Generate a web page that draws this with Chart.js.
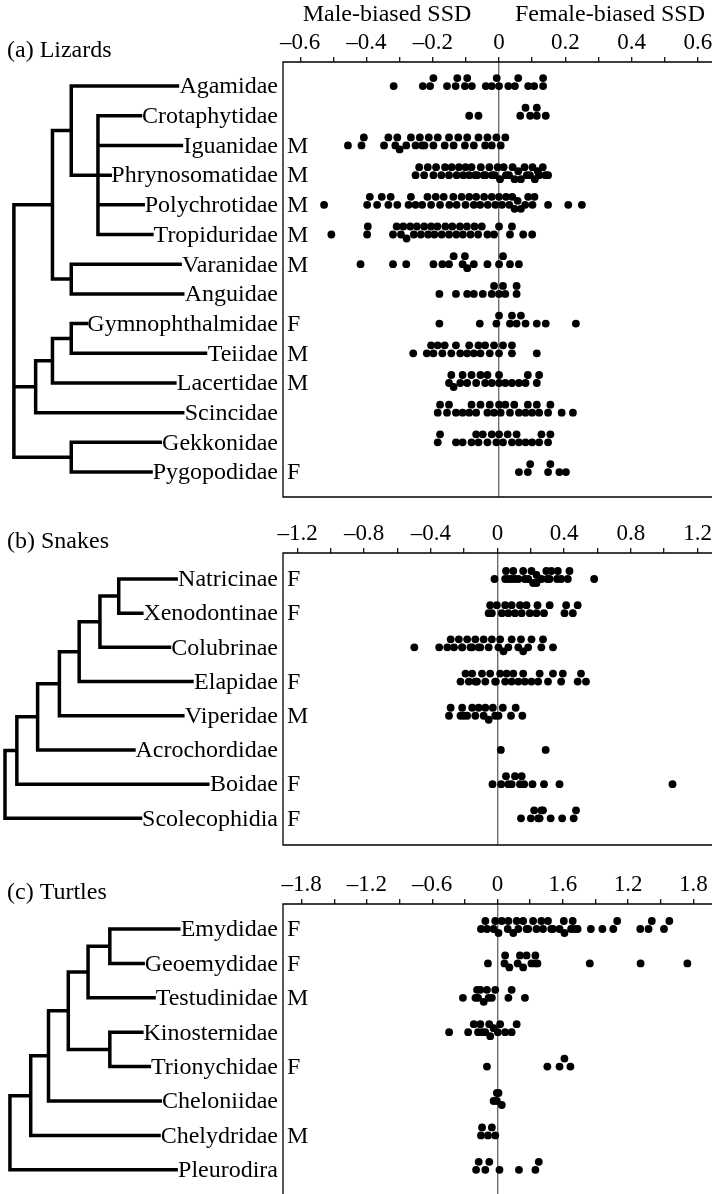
<!DOCTYPE html>
<html>
<head>
<meta charset="utf-8">
<script src="https://cdn.jsdelivr.net/npm/chart.js@4.4.1/dist/chart.umd.min.js"></script>
<style>
  html, body { margin: 0; padding: 0; background: #fff; overflow: hidden; width: 712px; height: 1194px; }
  canvas { position: absolute; left: 0; }
</style>
</head>
<body>
<canvas id="lizards" width="730" height="505" style="top:0"></canvas>
<canvas id="snakes" width="730" height="345" style="top:505px"></canvas>
<canvas id="turtles" width="730" height="360" style="top:850px"></canvas>
<script>
/* ---------- (a) Lizards ---------- */
const lizardFamilies = ["Agamidae", "Crotaphytidae", "Iguanidae", "Phrynosomatidae", "Polychrotidae",
  "Tropiduridae", "Varanidae", "Anguidae", "Gymnophthalmidae", "Teiidae", "Lacertidae",
  "Scincidae", "Gekkonidae", "Pygopodidae"];
const lizardBias = ["", "", "M", "M", "M", "M", "M", "", "F", "M", "M", "", "", "F"];
const lizardTicks = [-0.6, -0.4, -0.2, 0, 0.2, 0.4, 0.6];
const lizardTickLabels = ["–0.6", "–0.4", "–0.2", "0", "0.2", "0.4", "0.6"];
const lizardMinorTicks = [-0.5, -0.3, -0.1, 0.1, 0.3, 0.5];
// tree: [node depth, children...] ; a number child = row of a family
const lizardTree = [10,
  [49, [68, 0, [95, 1, 2, 3, 4, 5]], [68, 6, 7]],
  [32, [49, [68, 8, 9], 10], 11],
  [68, 12, 13]];
const lizardSSD = [
  [-0.318, -0.230, -0.208, -0.198, -0.157, -0.131, -0.126, -0.103, -0.096, -0.082, -0.040, -0.022, -0.007, 0.0, 0.028, 0.048, 0.058, 0.088, 0.106, 0.133, 0.133],
  [-0.090, -0.062, 0.064, 0.080, 0.094, 0.114, 0.114, 0.141],
  [-0.456, -0.415, -0.408, -0.347, -0.334, -0.313, -0.307, -0.300, -0.280, -0.266, -0.252, -0.239, -0.232, -0.225, -0.212, -0.198, -0.185, -0.164, -0.151, -0.137, -0.123, -0.103, -0.096, -0.076, -0.062, -0.042, -0.035, -0.022, -0.008, 0.005, 0.019],
  [-0.252, -0.241, -0.226, -0.215, -0.198, -0.190, -0.174, -0.163, -0.151, -0.143, -0.128, -0.121, -0.108, -0.101, -0.090, -0.083, -0.072, -0.066, -0.055, -0.046, -0.041, -0.029, -0.021, -0.013, -0.004, 0.003, 0.014, 0.021, 0.030, 0.041, 0.047, 0.058, 0.066, 0.077, 0.084, 0.093, 0.101, 0.108, 0.117, 0.121, 0.132, 0.140, 0.148],
  [-0.528, -0.398, -0.390, -0.368, -0.354, -0.334, -0.327, -0.307, -0.273, -0.266, -0.252, -0.232, -0.216, -0.205, -0.191, -0.178, -0.167, -0.150, -0.138, -0.128, -0.113, -0.101, -0.090, -0.076, -0.069, -0.057, -0.045, -0.034, -0.022, -0.011, 0.0, 0.009, 0.021, 0.031, 0.040, 0.047, 0.056, 0.066, 0.079, 0.088, 0.101, 0.107, 0.148, 0.209, 0.250],
  [-0.506, -0.398, -0.396, -0.320, -0.309, -0.296, -0.289, -0.279, -0.268, -0.257, -0.248, -0.236, -0.226, -0.214, -0.205, -0.195, -0.186, -0.173, -0.162, -0.151, -0.141, -0.129, -0.118, -0.109, -0.097, -0.086, -0.074, -0.063, -0.052, -0.035, -0.015, 0.0, 0.033, 0.039, 0.073, 0.100],
  [-0.418, -0.320, -0.280, -0.198, -0.171, -0.151, -0.137, -0.110, -0.103, -0.096, -0.076, -0.035, 0.0, 0.012, 0.033, 0.060],
  [-0.180, -0.130, -0.096, -0.076, -0.049, -0.022, -0.015, 0.0, 0.012, 0.019, 0.053, 0.053],
  [-0.180, -0.058, -0.008, 0.0, 0.033, 0.039, 0.053, 0.066, 0.080, 0.114, 0.141, 0.232],
  [-0.259, -0.218, -0.205, -0.198, -0.185, -0.171, -0.164, -0.144, -0.130, -0.117, -0.096, -0.090, -0.076, -0.062, -0.056, -0.042, -0.028, -0.015, 0.0, 0.012, 0.039, 0.039, 0.114],
  [-0.151, -0.144, -0.137, -0.117, -0.110, -0.096, -0.083, -0.069, -0.056, -0.042, -0.035, -0.022, 0.0, 0.0, 0.019, 0.039, 0.060, 0.080, 0.087, 0.114, 0.121],
  [-0.185, -0.178, -0.157, -0.151, -0.130, -0.110, -0.090, -0.083, -0.069, -0.056, -0.035, -0.028, -0.015, 0.0, 0.005, 0.019, 0.033, 0.046, 0.060, 0.080, 0.087, 0.100, 0.114, 0.121, 0.148, 0.155, 0.189, 0.223],
  [-0.185, -0.178, -0.130, -0.110, -0.083, -0.069, -0.062, -0.049, -0.035, -0.022, -0.008, 0.0, 0.012, 0.026, 0.039, 0.053, 0.060, 0.080, 0.100, 0.121, 0.128, 0.148, 0.155],
  [0.060, 0.087, 0.094, 0.148, 0.155, 0.182, 0.202]
];

/* ---------- (b) Snakes ---------- */
const snakeFamilies = ["Natricinae", "Xenodontinae", "Colubrinae", "Elapidae", "Viperidae",
  "Acrochordidae", "Boidae", "Scolecophidia"];
const snakeBias = ["F", "F", "", "F", "M", "", "F", "F"];
const snakeTicks = [-1.2, -0.8, -0.4, 0, 0.4, 0.8, 1.2];
const snakeTickLabels = ["–1.2", "–0.8", "–0.4", "0", "0.4", "0.8", "1.2"];
const snakeMinorTicks = [-1.0, -0.6, -0.2, 0.2, 0.6, 1.0];
const snakeTree = [1, [13, [34, [56, [76, [97, [116, 0, 1], 2], 3], 4], 5], 6], 7];
const snakeSSD = [
  [-0.018, 0.046, 0.051, 0.065, 0.085, 0.095, 0.105, 0.125, 0.154, 0.164, 0.184, 0.204, 0.214, 0.234, 0.234, 0.263, 0.293, 0.299, 0.313, 0.323, 0.358, 0.362, 0.382, 0.422, 0.432, 0.580],
  [-0.053, -0.044, -0.034, -0.004, 0.026, 0.046, 0.065, 0.085, 0.105, 0.135, 0.145, 0.174, 0.194, 0.234, 0.240, 0.279, 0.313, 0.402, 0.412, 0.452, 0.481],
  [-0.499, -0.350, -0.301, -0.281, -0.261, -0.232, -0.212, -0.212, -0.182, -0.162, -0.152, -0.133, -0.113, -0.103, -0.083, -0.053, -0.034, 0.006, 0.016, 0.036, 0.065, 0.085, 0.125, 0.141, 0.154, 0.184, 0.204, 0.263, 0.273, 0.333],
  [-0.222, -0.192, -0.172, -0.152, -0.133, -0.123, -0.093, -0.073, -0.044, -0.014, -0.010, 0.016, 0.046, 0.055, 0.085, 0.095, 0.125, 0.154, 0.164, 0.204, 0.244, 0.253, 0.303, 0.333, 0.382, 0.392, 0.481, 0.501, 0.531],
  [-0.291, -0.281, -0.222, -0.212, -0.202, -0.182, -0.152, -0.133, -0.113, -0.083, -0.073, -0.053, -0.028, -0.014, 0.006, 0.032, 0.081, 0.109, 0.149],
  [0.020, 0.289],
  [-0.030, 0.022, 0.051, 0.065, 0.085, 0.105, 0.135, 0.145, 0.160, 0.210, 0.279, 0.372, 1.050],
  [0.141, 0.200, 0.220, 0.244, 0.253, 0.263, 0.273, 0.319, 0.388, 0.457, 0.471]
];

/* ---------- (c) Turtles ---------- */
const turtleFamilies = ["Emydidae", "Geoemydidae", "Testudinidae", "Kinosternidae", "Trionychidae",
  "Cheloniidae", "Chelydridae", "Pleurodira"];
const turtleBias = ["F", "F", "M", "", "F", "", "M", ""];
const turtleTicks = [-1.8, -1.2, -0.6, 0, 0.6, 1.2, 1.8];
const turtleTickLabels = ["–1.8", "–1.2", "–0.6", "0", "1.6", "1.2", "1.8"];
const turtleMinorTicks = [-1.5, -0.9, -0.3, 0.3, 0.9, 1.5];
const turtleTree = [6, [27, [45, [65, [85, [107, 0, 1], 2], [107, 3, 4]], 5], 6], 7];
const turtleSSD = [
  [-0.152, -0.112, -0.097, -0.036, -0.021, 0.009, 0.039, 0.094, 0.100, 0.145, 0.176, 0.191, 0.236, 0.267, 0.282, 0.327, 0.358, 0.403, 0.418, 0.464, 0.494, 0.509, 0.570, 0.609, 0.615, 0.676, 0.691, 0.706, 0.736, 0.858, 0.964, 1.064, 1.100, 1.312, 1.388, 1.418, 1.530, 1.579],
  [-0.088, 0.064, 0.070, 0.109, 0.185, 0.206, 0.236, 0.267, 0.312, 0.348, 0.348, 0.367, 0.848, 1.315, 1.745],
  [-0.318, -0.203, -0.188, -0.179, -0.158, -0.127, -0.097, -0.082, -0.052, -0.021, 0.100, 0.130, 0.252],
  [-0.445, -0.270, -0.218, -0.179, -0.158, -0.142, -0.112, -0.076, -0.067, -0.036, 0.003, 0.024, 0.070, 0.130, 0.176],
  [-0.097, 0.458, 0.570, 0.615, 0.670],
  [-0.036, -0.006, -0.006, 0.009, 0.039],
  [-0.152, -0.142, -0.088, -0.052, -0.021],
  [-0.197, -0.173, -0.112, -0.076, 0.018, 0.197, 0.348, 0.379]
];

/* ---------- drawing ---------- */
const FONT = '"Liberation Serif", "Times New Roman", serif';
const LABEL_SIZE = 24, TICK_SIZE = 23;
const LABEL_RIGHT = 278, BIAS_LEFT = 287, BOX_LEFT = 283;
const DOT_R = 3.9;
const LANES = [0, -8, 4, -4];

const measure = document.createElement("canvas").getContext("2d");
measure.font = LABEL_SIZE + "px " + FONT;

function treeSegments(node, leafEnd, segs){
  const [x, ...kids] = node;
  const ys = kids.map(k=>{
    if(Array.isArray(k)){
      const y = treeSegments(k, leafEnd, segs);
      segs.push({x, y}, {x:k[0], y}, {x:null, y:null});
      return y;
    }
    segs.push({x, y:k}, {x:leafEnd[k], y:k}, {x:null, y:null});
    return k;
  });
  const top = ys[0], bot = ys[ys.length-1];
  segs.push({x, y:top}, {x, y:bot}, {x:null, y:null});
  return (top + bot) / 2;
}

// stacked dot layout: a dot leaves the centre line only when it would sit almost on top of another
function swarm(chart, values){
  const xs = chart.scales.x, ys = chart.scales.y;
  const rowPx = Math.abs(ys.getPixelForValue(1) - ys.getPixelForValue(0));
  const pts = [];
  values.forEach((row, i)=>{
    const placed = [];
    row.slice().sort((a,b)=>a-b).forEach(v=>{
      const px = xs.getPixelForValue(v);
      let best = 0, bestN = Infinity;
      LANES.forEach(off=>{
        const n = placed.filter(p=>Math.hypot(p.px-px, p.off-off) < DOT_R*1.5).length;
        if(n < bestN){ bestN = n; best = off; }
      });
      placed.push({px, off:best});
      pts.push({x:v, y:i + best/rowPx});
    });
  });
  return pts;
}

const panelPlugin = {
  id: "panel",
  afterDatasetsDraw(chart, args, o){
    const ctx = chart.ctx, a = chart.chartArea, ys = chart.scales.y;
    ctx.save();
    ctx.strokeStyle = "#000";
    ctx.lineWidth = 1.3;
    ctx.beginPath();
    ctx.moveTo(a.right + 5, a.top);
    ctx.lineTo(BOX_LEFT, a.top);
    ctx.lineTo(BOX_LEFT, a.bottom);
    ctx.lineTo(a.right + 5, a.bottom);
    ctx.stroke();
    ctx.fillStyle = "#000";
    ctx.font = LABEL_SIZE + "px " + FONT;
    ctx.textBaseline = "middle";
    o.families.forEach((f, i)=>{
      const y = ys.getPixelForValue(i) + 1;
      ctx.textAlign = "right";
      ctx.fillText(f, LABEL_RIGHT, y);
      if(o.bias[i]){
        ctx.textAlign = "left";
        ctx.fillText(o.bias[i], BIAS_LEFT, y);
      }
    });
    ctx.textAlign = "left";
    ctx.fillText(o.title, 7, o.titleY);
    if(o.heads){
      ctx.textAlign = "center";
      o.heads.forEach(h=>ctx.fillText(h[0], h[1], h[2]));
    }
    ctx.restore();
  }
};

function makePanel(id, p){
  const leafEnd = p.families.map(f=>LABEL_RIGHT - measure.measureText(f).width - 4);
  const segs = [];
  treeSegments(p.tree, leafEnd, segs);
  const allTicks = p.ticks.concat(p.minor).sort((a,b)=>a-b);
  const canvas = document.getElementById(id);

  const chart = new Chart(canvas, {
    data: {
      datasets: [
        {type:"line", data:segs, xAxisID:"xt", yAxisID:"y", borderColor:"#000", borderWidth:3.5,
         pointRadius:0, spanGaps:false, tension:0, borderCapStyle:"square", clip:false},
        {type:"scatter", data:[], xAxisID:"x", yAxisID:"y", pointRadius:DOT_R,
         backgroundColor:"#000", borderWidth:0}
      ]
    },
    options: {
      responsive:false, animation:false, devicePixelRatio:1, events:[],
      layout:{padding:{top:0, left:0, right:0, bottom:p.padBottom}},
      plugins:{legend:{display:false}, tooltip:{enabled:false},
        panel:{families:p.families, bias:p.bias, title:p.title, titleY:p.titleY, heads:p.heads}},
      scales:{
        x:{type:"linear", position:"top", min:p.xMin, max:p.xMax,
          afterBuildTicks:s=>{ s.ticks = allTicks.map(v=>({value:v})); },
          afterFit:s=>{ s.height = p.axisTop; },
          border:{display:false},
          grid:{drawOnChartArea:true, lineWidth:1.4, tickLength:5, tickWidth:1.2, tickColor:"#000",
            color:c=>(c.tick && c.tick.value === 0) ? "#6e6e6e" : "rgba(0,0,0,0)"},
          ticks:{font:{family:FONT, size:TICK_SIZE}, color:"#000", padding:0, autoSkip:false, maxRotation:0,
            callback:v=>{ const k = p.ticks.indexOf(v); return k < 0 ? "" : p.tickLabels[k]; }}
        },
        xt:{type:"linear", display:false, min:0, max:730},
        y:{type:"linear", display:false, reverse:true, min:p.yMin, max:p.yMax}
      }
    },
    plugins:[panelPlugin]
  });
  chart.data.datasets[1].data = swarm(chart, p.values);
  chart.update("none");
}

makePanel("lizards", {
  families:lizardFamilies, bias:lizardBias, tree:lizardTree, values:lizardSSD,
  ticks:lizardTicks, tickLabels:lizardTickLabels, minor:lizardMinorTicks,
  title:"(a) Lizards", titleY:51,
  heads:[["Male-biased SSD", 387, 15], ["Female-biased SSD", 610, 15]],
  xMin:-1.494, xMax:0.685, yMin:-0.81, yMax:13.84, axisTop:62, padBottom:8
});
makePanel("snakes", {
  families:snakeFamilies, bias:snakeBias, tree:snakeTree, values:snakeSSD,
  ticks:snakeTicks, tickLabels:snakeTickLabels, minor:snakeMinorTicks,
  title:"(b) Snakes", titleY:37,
  xMin:-2.961, xMax:1.371, yMin:-0.76, yMax:7.78, axisTop:48, padBottom:5
});
makePanel("turtles", {
  families:turtleFamilies, bias:turtleBias, tree:turtleTree, values:turtleSSD,
  ticks:turtleTicks, tickLabels:turtleTickLabels, minor:turtleMinorTicks,
  title:"(c) Turtles", titleY:43,
  xMin:-4.536, xMax:2.1, yMin:-0.727, yMax:7.79, axisTop:54, padBottom:13
});
</script>
</body>
</html>
